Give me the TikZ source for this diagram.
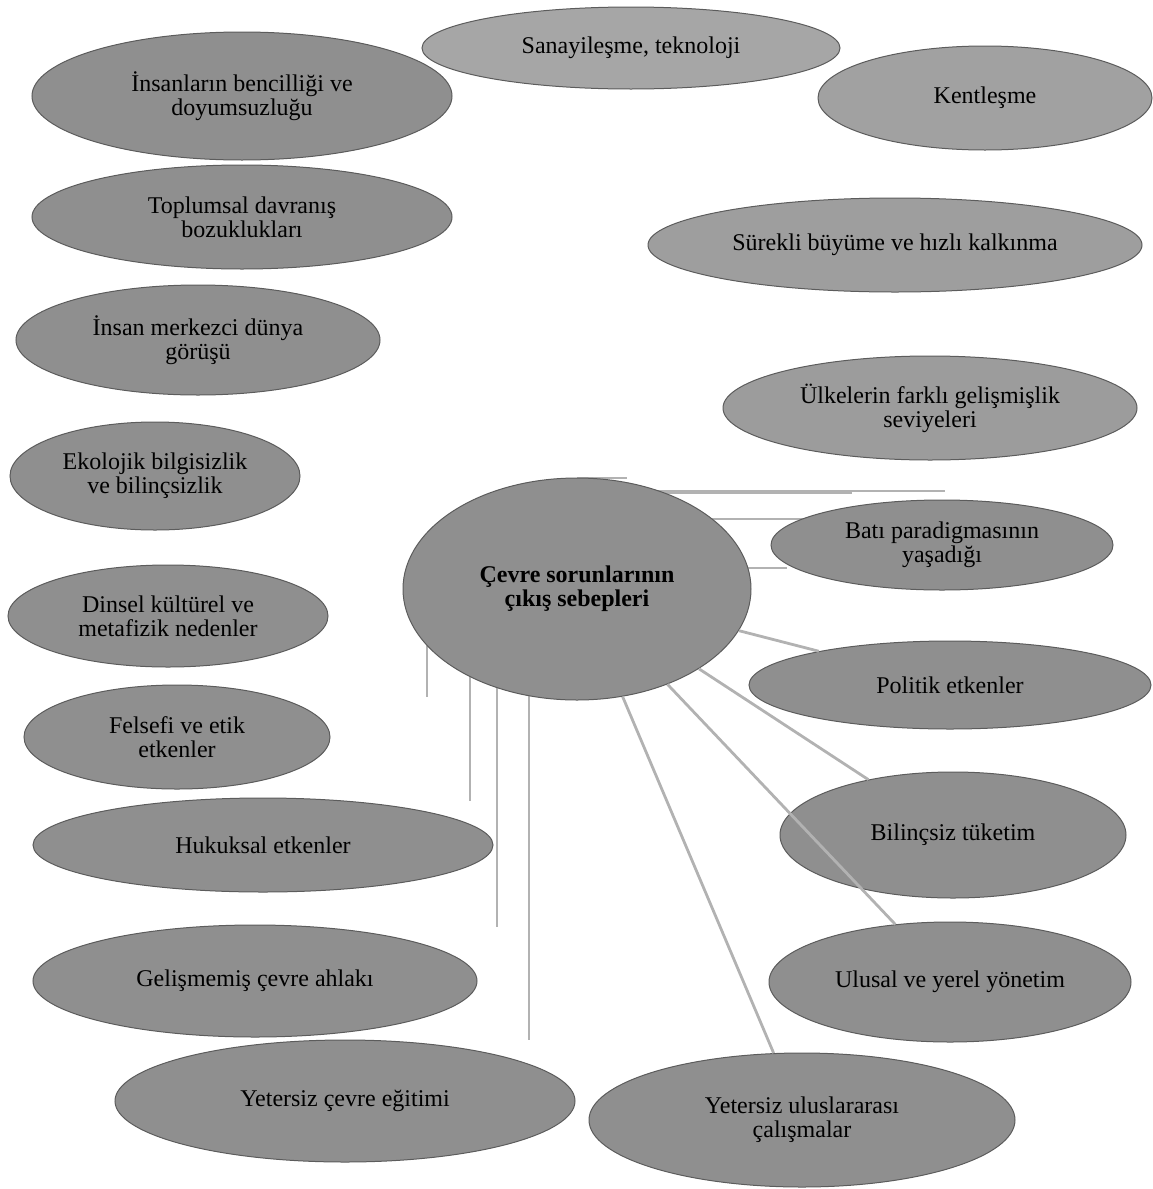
\documentclass[tikz,border=0pt]{standalone}
\usepackage{fontspec}
\setmainfont{Liberation Serif}
\usepackage{tikz}
\usetikzlibrary{shapes.geometric,backgrounds}
\definecolor{blobfill}{RGB}{143,143,143}
\definecolor{blobedge}{RGB}{92,92,92}
\definecolor{linkgrey}{RGB}{178,178,178}
\tikzset{
  cause/.style={ellipse,draw=blobedge,fill=blobfill,line width=0.5pt,inner sep=0pt,
                align=center,font=\fontsize{12}{12}\selectfont},
  core/.style={cause,font=\fontsize{12}{12}\selectfont\bfseries},
  link/.style={draw=linkgrey,line width=1.4pt},
}
\begin{document}
\begin{tikzpicture}[x=0.5pt,y=-0.5pt]
  \useasboundingbox (0,0) rectangle (1152,1189);

  \node[core,minimum width=174pt,minimum height=111pt] (root) at (577,589)
    {Çevre sorunlarının\\çıkış sebepleri};

  \node[cause,fill=black!35,minimum width=209pt,minimum height=41pt] (sanayi) at (631,48) {Sanayileşme, teknoloji};
  \node[cause,minimum width=210pt,minimum height=64pt] (bencil) at (242,96) {İnsanların bencilliği ve\\doyumsuzluğu};
  \node[cause,fill=black!37,minimum width=167pt,minimum height=52pt] (kent) at (985,98) {Kentleşme};
  \node[cause,minimum width=210pt,minimum height=52pt] (toplum) at (242,217) {Toplumsal davranış\\bozuklukları};
  \node[cause,fill=black!38,minimum width=247pt,minimum height=47pt] (buyume) at (895,245) {Sürekli büyüme ve hızlı kalkınma};
  \node[cause,minimum width=182pt,minimum height=55pt] (insan) at (198,340) {İnsan merkezci dünya\\görüşü};
  \node[cause,fill=black!39,minimum width=207pt,minimum height=52pt] (ulke) at (930,408) {Ülkelerin farklı gelişmişlik\\seviyeleri};
  \node[cause,minimum width=145pt,minimum height=54pt] (ekoloji) at (155,476) {Ekolojik bilgisizlik\\ve bilinçsizlik};
  \node[cause,minimum width=171pt,minimum height=45pt] (bati) at (942,545) {Batı paradigmasının\\yaşadığı};
  \node[cause,minimum width=160pt,minimum height=51pt] (dinsel) at (168,616) {Dinsel kültürel ve\\metafizik nedenler};
  \node[cause,minimum width=201pt,minimum height=44pt] (politik) at (950,685) {Politik etkenler};
  \node[cause,minimum width=153pt,minimum height=52pt] (felsefe) at (177,737) {Felsefi ve etik\\etkenler};
  \node[cause,minimum width=173pt,minimum height=63pt] (tuketim) at (953,835) {Bilinçsiz tüketim};
  \node[cause,minimum width=230pt,minimum height=47pt] (hukuk) at (263,845) {Hukuksal etkenler};
  \node[cause,minimum width=222pt,minimum height=56pt] (ahlak) at (255,981) {Gelişmemiş çevre ahlakı};
  \node[cause,minimum width=181pt,minimum height=60pt] (yonetim) at (950,982) {Ulusal ve yerel yönetim};
  \node[cause,minimum width=230pt,minimum height=61pt] (egitim) at (345,1101) {Yetersiz çevre eğitimi};
  \node[cause,minimum width=213pt,minimum height=67pt] (ulus) at (802,1120) {Yetersiz uluslararası\\çalışmalar};

  \coordinate (h1) at (627,478);
  \coordinate (h2) at (852,493);
  \coordinate (h3) at (945,491);
  \coordinate (h4) at (837,519);
  \coordinate (h5) at (787,568);
  \coordinate (v1) at (427,697);
  \coordinate (v2) at (470,801);
  \coordinate (v3) at (497,927);
  \coordinate (v4) at (529,1040);

  \begin{pgfonlayer}{background}
    \foreach \e in {h1,h2,h3,h4,h5}
      \draw[link] (root.center |- \e) -- (\e);
    \foreach \e in {v1,v2,v3,v4}
      \draw[link] (root.center -| \e) -- (\e);
  \end{pgfonlayer}

  \foreach \t in {politik,tuketim,yonetim,ulus}
    \draw[link] (root) -- (\t);
\end{tikzpicture}
\end{document}
